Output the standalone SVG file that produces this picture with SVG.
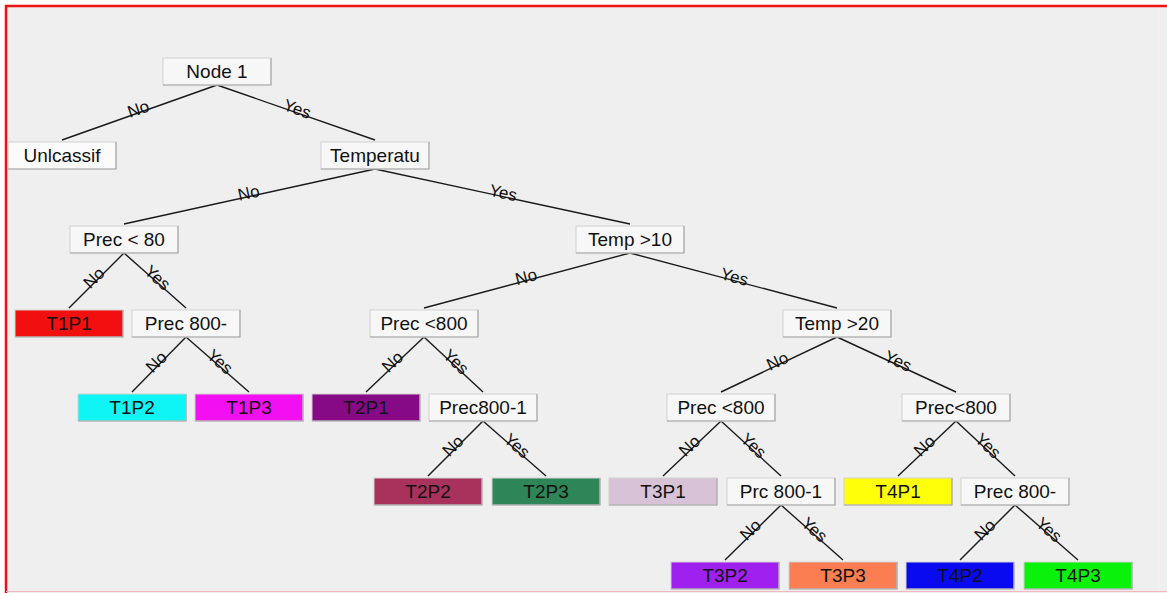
<svg xmlns="http://www.w3.org/2000/svg" width="1167" height="593" viewBox="0 0 1167 593">
<style>
.box{fill:#f7f7f7;stroke:#d2d2d2;stroke-width:1}
.sh{fill:none;stroke:#a8a8a8;stroke-width:1.2}
.t{font-family:"Liberation Sans",Arial,sans-serif;font-size:19px;fill:#111;text-anchor:middle}
.e{stroke:#1a1a1a;stroke-width:1.4;fill:none}
.l{font-family:"Liberation Sans",Arial,sans-serif;font-size:17px;fill:#111;text-anchor:middle}
</style>
<rect x="0" y="0" width="1167" height="593" fill="#ffffff"/>
<rect x="6" y="6" width="1161" height="587" fill="#efefef"/>
<rect x="1157" y="8" width="3" height="583" fill="#f5eff5"/>
<line x1="5" y1="6" x2="1167" y2="6" stroke="#ee1111" stroke-width="2.5"/>
<line x1="6" y1="5" x2="6" y2="593" stroke="#ee1111" stroke-width="2.5"/>
<line x1="6" y1="591.5" x2="1167" y2="591.5" stroke="#f3b5c0" stroke-width="1.2"/>

<g id="connectors">
<line class="e" x1="217" y1="85" x2="62" y2="140"/>
<line class="e" x1="217" y1="85" x2="375" y2="140"/>
<line class="e" x1="375" y1="169" x2="124" y2="224"/>
<line class="e" x1="375" y1="169" x2="630" y2="224"/>
<line class="e" x1="124" y1="253" x2="69" y2="308"/>
<line class="e" x1="124" y1="253" x2="186" y2="308"/>
<line class="e" x1="630" y1="253" x2="424" y2="308"/>
<line class="e" x1="630" y1="253" x2="837" y2="308"/>
<line class="e" x1="186" y1="337" x2="132" y2="392"/>
<line class="e" x1="186" y1="337" x2="249" y2="392"/>
<line class="e" x1="424" y1="337" x2="366" y2="392"/>
<line class="e" x1="424" y1="337" x2="483" y2="392"/>
<line class="e" x1="837" y1="337" x2="721" y2="392"/>
<line class="e" x1="837" y1="337" x2="956" y2="392"/>
<line class="e" x1="483" y1="421" x2="428" y2="476"/>
<line class="e" x1="483" y1="421" x2="546" y2="476"/>
<line class="e" x1="721" y1="421" x2="663" y2="476"/>
<line class="e" x1="721" y1="421" x2="781" y2="476"/>
<line class="e" x1="956" y1="421" x2="898" y2="476"/>
<line class="e" x1="956" y1="421" x2="1015" y2="476"/>
<line class="e" x1="781" y1="505" x2="725" y2="560"/>
<line class="e" x1="781" y1="505" x2="843" y2="560"/>
<line class="e" x1="1015" y1="505" x2="960" y2="560"/>
<line class="e" x1="1015" y1="505" x2="1078" y2="560"/>
<text class="l" transform="translate(139.5,112.5) rotate(-19.5)" y="2">No</text>
<text class="l" transform="translate(296,112.5) rotate(19.2)" y="2">Yes</text>
<text class="l" transform="translate(249.5,196.5) rotate(-12.4)" y="2">No</text>
<text class="l" transform="translate(502.5,196.5) rotate(12.2)" y="2">Yes</text>
<text class="l" transform="translate(96.5,280.5) rotate(-45)" y="2">No</text>
<text class="l" transform="translate(155,280.5) rotate(41.6)" y="2">Yes</text>
<text class="l" transform="translate(527,280.5) rotate(-14.9)" y="2">No</text>
<text class="l" transform="translate(733.5,280.5) rotate(14.9)" y="2">Yes</text>
<text class="l" transform="translate(159,364.5) rotate(-45.5)" y="2">No</text>
<text class="l" transform="translate(217.5,364.5) rotate(41.1)" y="2">Yes</text>
<text class="l" transform="translate(395,364.5) rotate(-43.5)" y="2">No</text>
<text class="l" transform="translate(453.5,364.5) rotate(43)" y="2">Yes</text>
<text class="l" transform="translate(779,364.5) rotate(-25.4)" y="2">No</text>
<text class="l" transform="translate(896.5,364.5) rotate(24.8)" y="2">Yes</text>
<text class="l" transform="translate(455.5,448.5) rotate(-45)" y="2">No</text>
<text class="l" transform="translate(514.5,448.5) rotate(41.1)" y="2">Yes</text>
<text class="l" transform="translate(692,448.5) rotate(-43.5)" y="2">No</text>
<text class="l" transform="translate(751,448.5) rotate(42.5)" y="2">Yes</text>
<text class="l" transform="translate(927,448.5) rotate(-43.5)" y="2">No</text>
<text class="l" transform="translate(985.5,448.5) rotate(43)" y="2">Yes</text>
<text class="l" transform="translate(753,532.5) rotate(-44.5)" y="2">No</text>
<text class="l" transform="translate(812,532.5) rotate(41.6)" y="2">Yes</text>
<text class="l" transform="translate(987.5,532.5) rotate(-45)" y="2">No</text>
<text class="l" transform="translate(1046.5,532.5) rotate(41.1)" y="2">Yes</text>
</g>

<g id="node1"><rect class="box" x="163" y="58" width="108" height="27"/><path class="sh" d="M271,58V85H163"/><text class="t" x="217" y="78">Node 1</text></g>
<g id="unlcassif"><rect class="box" x="8" y="142" width="108" height="27" style="fill:#fbfbfb"/><path class="sh" d="M116,142V169H8"/><text class="t" x="62" y="162">Unlcassif</text></g>
<g id="temperatu"><rect class="box" x="321" y="142" width="108" height="27"/><path class="sh" d="M429,142V169H321"/><text class="t" x="375" y="162">Temperatu</text></g>
<g id="prec80"><rect class="box" x="70" y="226" width="108" height="27"/><path class="sh" d="M178,226V253H70"/><text class="t" x="124" y="246">Prec &lt; 80</text></g>
<g id="temp10"><rect class="box" x="576" y="226" width="108" height="27"/><path class="sh" d="M684,226V253H576"/><text class="t" x="630" y="246">Temp &gt;10</text></g>
<g id="t1p1"><rect class="box" x="15" y="310" width="108" height="27" style="fill:#f20f0f"/><path class="sh" d="M123,310V337H15"/><text class="t" x="69" y="330">T1P1</text></g>
<g id="prec800a"><rect class="box" x="132" y="310" width="108" height="27"/><path class="sh" d="M240,310V337H132"/><text class="t" x="186" y="330">Prec 800-</text></g>
<g id="prec800b"><rect class="box" x="370" y="310" width="108" height="27"/><path class="sh" d="M478,310V337H370"/><text class="t" x="424" y="330">Prec &lt;800</text></g>
<g id="temp20"><rect class="box" x="783" y="310" width="108" height="27"/><path class="sh" d="M891,310V337H783"/><text class="t" x="837" y="330">Temp &gt;20</text></g>
<g id="t1p2"><rect class="box" x="78" y="394" width="108" height="27" style="fill:#0ff5f5"/><path class="sh" d="M186,394V421H78"/><text class="t" x="132" y="414">T1P2</text></g>
<g id="t1p3"><rect class="box" x="195" y="394" width="108" height="27" style="fill:#f20ff2"/><path class="sh" d="M303,394V421H195"/><text class="t" x="249" y="414">T1P3</text></g>
<g id="t2p1"><rect class="box" x="312" y="394" width="108" height="27" style="fill:#860a86"/><path class="sh" d="M420,394V421H312"/><text class="t" x="366" y="414">T2P1</text></g>
<g id="prec8001a"><rect class="box" x="429" y="394" width="108" height="27"/><path class="sh" d="M537,394V421H429"/><text class="t" x="483" y="414">Prec800-1</text></g>
<g id="prec800c"><rect class="box" x="667" y="394" width="108" height="27"/><path class="sh" d="M775,394V421H667"/><text class="t" x="721" y="414">Prec &lt;800</text></g>
<g id="prec800d"><rect class="box" x="902" y="394" width="108" height="27"/><path class="sh" d="M1010,394V421H902"/><text class="t" x="956" y="414">Prec&lt;800</text></g>
<g id="t2p2"><rect class="box" x="374" y="478" width="108" height="27" style="fill:#a8325c"/><path class="sh" d="M482,478V505H374"/><text class="t" x="428" y="498">T2P2</text></g>
<g id="t2p3"><rect class="box" x="492" y="478" width="108" height="27" style="fill:#2e8557"/><path class="sh" d="M600,478V505H492"/><text class="t" x="546" y="498">T2P3</text></g>
<g id="t3p1"><rect class="box" x="609" y="478" width="108" height="27" style="fill:#d8c2d8"/><path class="sh" d="M717,478V505H609"/><text class="t" x="663" y="498">T3P1</text></g>
<g id="prc8001"><rect class="box" x="727" y="478" width="108" height="27"/><path class="sh" d="M835,478V505H727"/><text class="t" x="781" y="498">Prc 800-1</text></g>
<g id="t4p1"><rect class="box" x="844" y="478" width="108" height="27" style="fill:#ffff0a"/><path class="sh" d="M952,478V505H844"/><text class="t" x="898" y="498">T4P1</text></g>
<g id="prec800e"><rect class="box" x="961" y="478" width="108" height="27"/><path class="sh" d="M1069,478V505H961"/><text class="t" x="1015" y="498">Prec 800-</text></g>
<g id="t3p2"><rect class="box" x="671" y="562" width="108" height="27" style="fill:#a020f0"/><path class="sh" d="M779,562V589H671"/><text class="t" x="725" y="582">T3P2</text></g>
<g id="t3p3"><rect class="box" x="789" y="562" width="108" height="27" style="fill:#fb7d52"/><path class="sh" d="M897,562V589H789"/><text class="t" x="843" y="582">T3P3</text></g>
<g id="t4p2"><rect class="box" x="906" y="562" width="108" height="27" style="fill:#0a0af0"/><path class="sh" d="M1014,562V589H906"/><text class="t" x="960" y="582">T4P2</text></g>
<g id="t4p3"><rect class="box" x="1024" y="562" width="108" height="27" style="fill:#0af20a"/><path class="sh" d="M1132,562V589H1024"/><text class="t" x="1078" y="582">T4P3</text></g>
</svg>
